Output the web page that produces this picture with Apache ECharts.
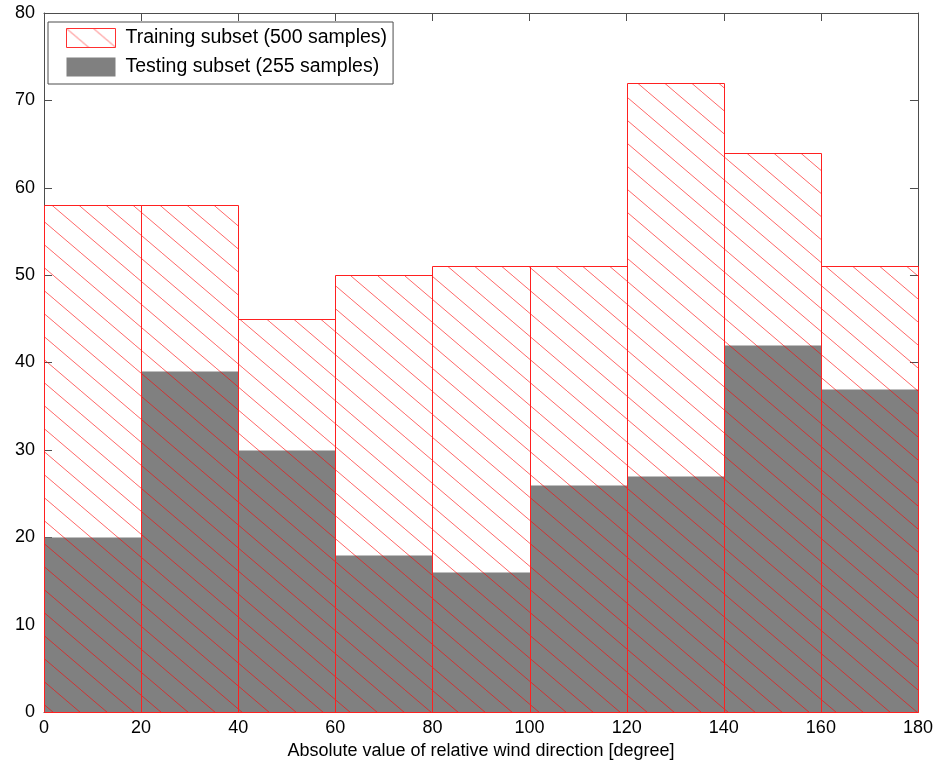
<!DOCTYPE html>
<html>
<head>
<meta charset="utf-8">
<script src="https://cdn.jsdelivr.net/npm/echarts@6/dist/echarts.min.js"></script>
<style>
  html, body { margin: 0; padding: 0; background: #fff; }
  #chart { width: 936px; height: 768px; }
</style>
</head>
<body>
<div id="chart"></div>
<script>
// Histogram bins of the absolute relative wind direction (degrees)
const binStarts = [0, 20, 40, 60, 80, 100, 120, 140, 160];
const binEnds = [20, 40, 60, 80, 100, 120, 140, 160, 180];
const trainingCounts = [58, 58, 45, 50, 51, 51, 72, 64, 51];
const testingCounts = [20, 39, 30, 18, 16, 26, 27, 42, 37];
const xTicks = [0, 20, 40, 60, 80, 100, 120, 140, 160, 180];
const yTicks = [0, 10, 20, 30, 40, 50, 60, 70, 80];

const trainingName = 'Training subset (500 samples)';
const testingName = 'Testing subset (255 samples)';

// Diagonal red hatch tile (one line per tile, running down to the right)
function makeHatch() {
  const w = 27, h = 23;
  const c = document.createElement('canvas');
  c.width = w; c.height = h;
  const g = c.getContext('2d');
  g.strokeStyle = 'rgba(255,0,0,0.6)';
  g.lineWidth = 1;
  g.beginPath();
  g.moveTo(-w, -h); g.lineTo(2 * w, 2 * h);
  g.stroke();
  return c;
}
const hatch = { image: makeHatch(), repeat: 'repeat' };

function toRows(counts) {
  return binStarts.map((s, i) => [s, binEnds[i], counts[i]]);
}

function barRenderer(styleFn) {
  return function (params, api) {
    const p0 = api.coord([api.value(0), 0]);
    const p1 = api.coord([api.value(1), api.value(2)]);
    const x0 = Math.round(p0[0]) + 0.5, x1 = Math.round(p1[0]) + 0.5;
    const yb = Math.round(p0[1]) + 0.5, yt = Math.round(p1[1]) + 0.5;
    return {
      type: 'rect',
      shape: { x: x0, y: yt, width: x1 - x0, height: yb - yt },
      style: styleFn()
    };
  };
}

const fontFam = '"Liberation Sans", Arial, sans-serif';
const frameColor = '#4d4d4d';

const axisCommon = {
  type: 'value',
  axisLine: { show: true, onZero: false, lineStyle: { color: frameColor, width: 1 } },
  axisTick: { show: true, inside: true, length: 8, lineStyle: { color: frameColor } },
  splitLine: { show: false },
  axisLabel: { color: '#000', fontSize: 18, fontFamily: fontFam }
};

const chart = echarts.init(document.getElementById('chart'), null, { renderer: 'canvas' });
chart.setOption({
  backgroundColor: '#fff',
  animation: false,
  grid: { left: 44, right: 15, top: 13, bottom: 56 },
  legend: {
    left: 48, top: 22,
    orient: 'vertical',
    backgroundColor: '#fff',
    borderColor: '#4d4d4d', borderWidth: 1,
    padding: [6, 6, 7, 18],
    itemWidth: 49, itemHeight: 19, itemGap: 9,
    textStyle: { fontSize: 19.5, color: '#000', fontFamily: fontFam, padding: [0, 0, 0, 5] },
    selectedMode: false,
    data: [
      { name: trainingName, icon: 'rect',
        itemStyle: { color: hatch, borderColor: '#ff3030', borderWidth: 1 } },
      { name: testingName, icon: 'rect',
        itemStyle: { color: '#808080', borderWidth: 0 } }
    ]
  },
  xAxis: [
    Object.assign({}, axisCommon, {
      position: 'bottom', min: 0, max: 180, interval: 20,
      axisLabel: Object.assign({}, axisCommon.axisLabel, { margin: 7,
        formatter: v => xTicks.includes(v) ? String(v) : '' }),
      name: 'Absolute value of relative wind direction [degree]',
      nameLocation: 'middle', nameGap: 30,
      nameTextStyle: { fontSize: 18, color: '#000', fontFamily: fontFam }
    }),
    Object.assign({}, axisCommon, {
      position: 'top', min: 0, max: 180, interval: 20,
      axisLabel: { show: false }
    })
  ],
  yAxis: [
    Object.assign({}, axisCommon, {
      position: 'left', min: 0, max: 80, interval: 10,
      axisLabel: Object.assign({}, axisCommon.axisLabel, { margin: 9,
        formatter: v => yTicks.includes(v) ? String(v) : '' })
    }),
    Object.assign({}, axisCommon, {
      position: 'right', min: 0, max: 80, interval: 10,
      axisLabel: { show: false }
    })
  ],
  series: [
    {
      name: testingName,
      type: 'custom',
      xAxisIndex: 0, yAxisIndex: 0,
      encode: { x: [0, 1], y: 2 },
      data: toRows(testingCounts),
      itemStyle: { color: '#808080' },
      renderItem: barRenderer(() => ({ fill: '#808080', stroke: null })),
      z: 1
    },
    {
      name: trainingName,
      type: 'custom',
      xAxisIndex: 0, yAxisIndex: 0,
      encode: { x: [0, 1], y: 2 },
      data: toRows(trainingCounts),
      itemStyle: { color: '#ff0000' },
      renderItem: barRenderer(() => ({ fill: hatch, stroke: '#ff2020', lineWidth: 1 })),
      z: 2
    }
  ]
});
</script>
</body>
</html>
